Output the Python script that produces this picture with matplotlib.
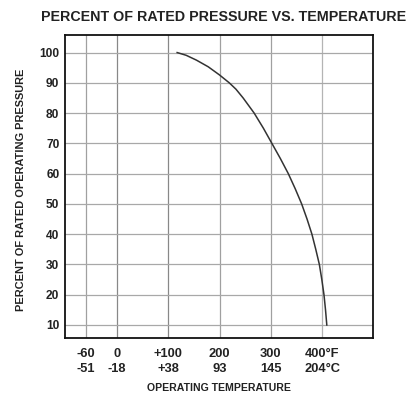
import matplotlib
matplotlib.use("Agg")
import matplotlib.pyplot as plt

plt.rcParams['font.family'] = ['Liberation Sans', 'DejaVu Sans']

# Data
temp_f = [117.5, 135, 155, 178, 200, 219, 232, 246, 267.5, 285.5, 302, 318.5, 334, 347.5, 360, 370.5, 380, 387.5, 394.5, 399.3, 403.5, 406.5, 409]
pct_rated = [100, 99.1, 97.5, 95.3, 92.6, 90, 87.9, 85, 80, 75, 70, 65, 60, 55, 50, 45, 40, 35, 30, 25, 20, 15, 10]

x_ticks = [-60, 0, 100, 200, 300, 400]
x_tick_labels = ["-60\n-51", "0\n-18", "+100\n+38", "200\n93", "300\n145", "400°F\n204°C"]
y_ticks = [10, 20, 30, 40, 50, 60, 70, 80, 90, 100]

fig = plt.figure(figsize=(4.14, 3.97), dpi=100)
ax = fig.add_axes([65/414, 1-338/397, (373-65)/414, (338-35)/397])

vcolors = ['#a0a0a0', '#888888', '#888888', '#a0a0a0', '#a0a0a0', '#b4b4b4']
for x, c in zip(x_ticks, vcolors):
    ax.axvline(x, color=c, lw=0.9, zorder=1)
for y in y_ticks:
    ax.axhline(y, color='#a8a8a8', lw=0.9, zorder=1)

ax.plot(temp_f, pct_rated, color='#333333', lw=1.1, zorder=3,
        solid_joinstyle='round')

ax.set_xlim(-101, 499)
ax.set_ylim(5.7, 105.8)
ax.set_xticks(x_ticks)
ax.set_xticklabels(x_tick_labels, fontsize=9.3, fontweight='bold', linespacing=1.4)
ax.set_yticks(y_ticks)
ax.set_yticklabels([str(v) for v in y_ticks], fontsize=8.6, fontweight='bold')
ax.tick_params(axis='both', length=0, colors='#222222')
ax.tick_params(axis='x', pad=7)
ax.tick_params(axis='y', pad=4)
for s in ax.spines.values():
    s.set_linewidth(1.3)
    s.set_color('#111111')

fig.text(223.5/414, 1-17/397, "PERCENT OF RATED PRESSURE VS. TEMPERATURE",
         ha='center', va='center', fontsize=10.3, fontweight='bold', color='#222222')
fig.text(219/414, 1-388/397, "OPERATING TEMPERATURE",
         ha='center', va='center', fontsize=7.6, fontweight='bold', color='#222222')
fig.text(21/414, 1-190/397, "PERCENT OF RATED OPERATING PRESSURE",
         ha='center', va='center', rotation=90, fontsize=7.9, fontweight='bold', color='#222222')

fig.savefig("out.png", dpi=100)
